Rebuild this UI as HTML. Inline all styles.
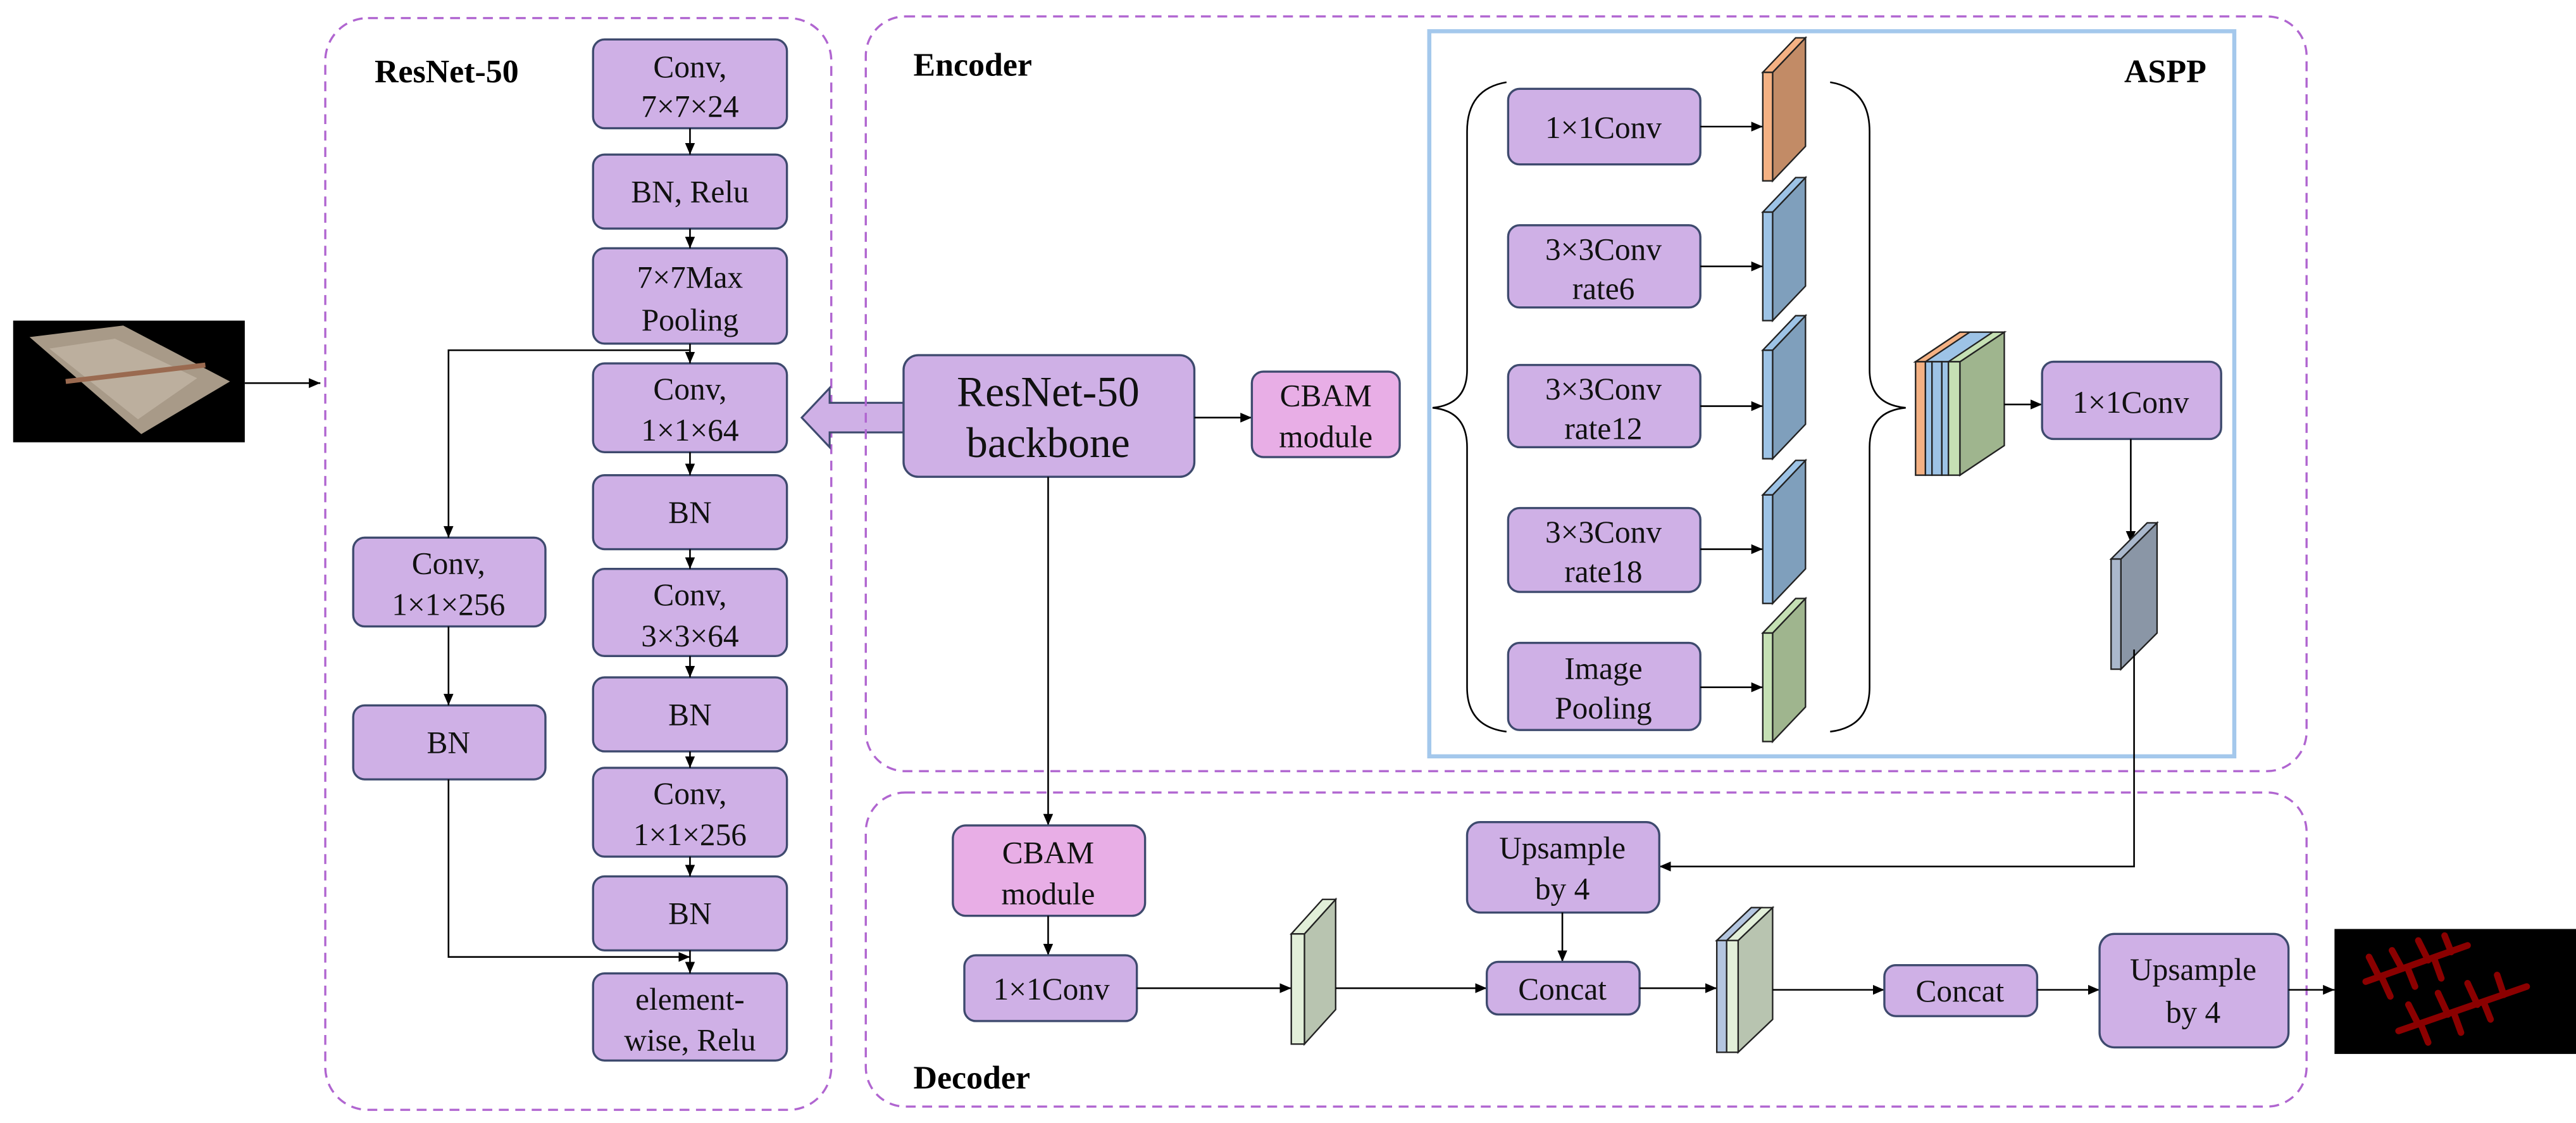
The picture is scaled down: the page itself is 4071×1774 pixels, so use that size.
<!DOCTYPE html>
<html><head><meta charset="utf-8"><style>html,body{margin:0;padding:0;background:#fff}svg{display:block}svg text{font-family:"Liberation Serif","Noto Serif CJK SC","DejaVu Serif",serif}</style></head><body>
<svg width="4071" height="1774" viewBox="0 0 1568 683" preserveAspectRatio="none" xmlns="http://www.w3.org/2000/svg">
<defs>
<marker id="a" markerWidth="8" markerHeight="8" refX="7" refY="4" orient="auto" markerUnits="userSpaceOnUse"><path d="M0,1 L7,4 L0,7 z" fill="#000"/></marker>
</defs>
<style>
.b{fill:#cfb0e6;stroke:#3e4a6e;stroke-width:1.3}
.p{fill:#e8aee6;stroke:#3e4a6e;stroke-width:1.3}
.l{stroke:#000;stroke-width:1;fill:none}
.t{font-size:19px;text-anchor:middle;fill:#111;font-family:"Liberation Serif","Noto Serif CJK SC","DejaVu Serif",serif}
.s{stroke:#222;stroke-width:0.9}
</style>
<rect x="8" y="195" width="141" height="74" fill="#000"/>
<polygon points="18,205 75,198 140,232 86,264" fill="#a89a88"/>
<polygon points="30,212 70,206 120,230 84,255" fill="#c4b8a8" opacity="0.7"/>
<line x1="40" y1="232" x2="125" y2="222" stroke="#9a6a50" stroke-width="3"/>
<line class="l" x1="149" y1="233" x2="195" y2="233" marker-end="url(#a)"/>

<rect x="198" y="11" width="308" height="664" rx="26" fill="none" stroke="#b065d0" stroke-width="1.3" stroke-dasharray="6,4"/>
<text x="228" y="50" font-size="20" font-weight="bold">ResNet-50</text>
<g>
<rect class="b" x="361" y="24" width="118" height="54" rx="7"/><text class="t" x="420" y="47">Conv,</text><text class="t" x="420" y="71">7×7×24</text>
<rect class="b" x="361" y="94" width="118" height="45" rx="7"/><text class="t" x="420" y="123">BN, Relu</text>
<rect class="b" x="361" y="151" width="118" height="58" rx="7"/><text class="t" x="420" y="175">7×7Max</text><text class="t" x="420" y="201">Pooling</text>
<rect class="b" x="361" y="221" width="118" height="54" rx="7"/><text class="t" x="420" y="243">Conv,</text><text class="t" x="420" y="268">1×1×64</text>
<rect class="b" x="361" y="289" width="118" height="45" rx="7"/><text class="t" x="420" y="318">BN</text>
<rect class="b" x="361" y="346" width="118" height="53" rx="7"/><text class="t" x="420" y="368">Conv,</text><text class="t" x="420" y="393">3×3×64</text>
<rect class="b" x="361" y="412" width="118" height="45" rx="7"/><text class="t" x="420" y="441">BN</text>
<rect class="b" x="361" y="467" width="118" height="54" rx="7"/><text class="t" x="420" y="489">Conv,</text><text class="t" x="420" y="514">1×1×256</text>
<rect class="b" x="361" y="533" width="118" height="45" rx="7"/><text class="t" x="420" y="562">BN</text>
<rect class="b" x="361" y="592" width="118" height="53" rx="7"/><text class="t" x="420" y="614">element-</text><text class="t" x="420" y="639">wise, Relu</text>
<rect class="b" x="215" y="327" width="117" height="54" rx="7"/><text class="t" x="273" y="349">Conv,</text><text class="t" x="273" y="374">1×1×256</text>
<rect class="b" x="215" y="429" width="117" height="45" rx="7"/><text class="t" x="273" y="458">BN</text>
</g>
<g class="l">
<line x1="420" y1="78" x2="420" y2="94" marker-end="url(#a)"/>
<line x1="420" y1="139" x2="420" y2="151" marker-end="url(#a)"/>
<line x1="420" y1="209" x2="420" y2="221" marker-end="url(#a)"/>
<line x1="420" y1="275" x2="420" y2="289" marker-end="url(#a)"/>
<line x1="420" y1="334" x2="420" y2="346" marker-end="url(#a)"/>
<line x1="420" y1="399" x2="420" y2="412" marker-end="url(#a)"/>
<line x1="420" y1="457" x2="420" y2="467" marker-end="url(#a)"/>
<line x1="420" y1="521" x2="420" y2="533" marker-end="url(#a)"/>
<line x1="420" y1="578" x2="420" y2="592" marker-end="url(#a)"/>
<polyline points="420,213 273,213 273,327" marker-end="url(#a)"/>
<line x1="273" y1="381" x2="273" y2="429" marker-end="url(#a)"/>
<polyline points="273,474 273,582 420,582" marker-end="url(#a)"/>
</g>
<polygon points="488,254 505,236 505,245 550,245 550,263 505,263 505,272" fill="#cfb0e6" stroke="#3e4a6e" stroke-width="1.2"/>

<rect x="527" y="10" width="877" height="459" rx="24" fill="none" stroke="#b065d0" stroke-width="1.3" stroke-dasharray="6,4"/>
<text x="556" y="46" font-size="20" font-weight="bold">Encoder</text>
<rect class="b" x="550" y="216" width="177" height="74" rx="9"/>
<text class="t" x="638" y="247" style="font-size:26px">ResNet-50</text>
<text class="t" x="638" y="278" style="font-size:26px">backbone</text>
<line class="l" x1="727" y1="254" x2="762" y2="254" marker-end="url(#a)"/>
<rect class="p" x="762" y="226" width="90" height="52" rx="7"/>
<text class="t" x="807" y="247">CBAM</text><text class="t" x="807" y="272">module</text>

<rect x="870" y="19" width="490" height="441" fill="none" stroke="#a4c8ec" stroke-width="2.5"/>
<text x="1343" y="50" font-size="20" font-weight="bold" text-anchor="end">ASPP</text>
<path class="l" d="M917,50 Q893,54 893,80 L893,225 Q893,246 872,248 Q893,250 893,272 L893,418 Q893,442 917,445" stroke-width="1.1"/>
<path class="l" d="M1114,50 Q1138,54 1138,80 L1138,225 Q1138,246 1160,248 Q1138,250 1138,272 L1138,418 Q1138,442 1114,445" stroke-width="1.1"/>
<rect class="b" x="918" y="54" width="117" height="46" rx="7"/><text class="t" x="976" y="84">1×1Conv</text>
<rect class="b" x="918" y="137" width="117" height="50" rx="7"/><text class="t" x="976" y="158">3×3Conv</text><text class="t" x="976" y="182">rate6</text>
<rect class="b" x="918" y="222" width="117" height="50" rx="7"/><text class="t" x="976" y="243">3×3Conv</text><text class="t" x="976" y="267">rate12</text>
<rect class="b" x="918" y="309" width="117" height="51" rx="7"/><text class="t" x="976" y="330">3×3Conv</text><text class="t" x="976" y="354">rate18</text>
<rect class="b" x="918" y="391" width="117" height="53" rx="7"/><text class="t" x="976" y="413">Image</text><text class="t" x="976" y="437">Pooling</text>
<g class="l">
<line x1="1035" y1="77" x2="1073" y2="77" marker-end="url(#a)"/>
<line x1="1035" y1="162" x2="1073" y2="162" marker-end="url(#a)"/>
<line x1="1035" y1="247" x2="1073" y2="247" marker-end="url(#a)"/>
<line x1="1035" y1="334" x2="1073" y2="334" marker-end="url(#a)"/>
<line x1="1035" y1="418" x2="1073" y2="418" marker-end="url(#a)"/>
</g>
<g class="s">
<polygon points="1079,44 1099,23 1099,89 1079,110" fill="#c28b66"/><polygon points="1073,44 1093,23 1099,23 1079,44" fill="#f4b183"/><rect x="1073" y="44" width="6" height="66" fill="#f4b183"/>
<polygon points="1079,129 1099,108 1099,174 1079,195" fill="#7f9fbc"/><polygon points="1073,129 1093,108 1099,108 1079,129" fill="#9dc3e6"/><rect x="1073" y="129" width="6" height="66" fill="#9dc3e6"/>
<polygon points="1079,213 1099,192 1099,258 1079,279" fill="#7f9fbc"/><polygon points="1073,213 1093,192 1099,192 1079,213" fill="#9dc3e6"/><rect x="1073" y="213" width="6" height="66" fill="#9dc3e6"/>
<polygon points="1079,301 1099,280 1099,346 1079,367" fill="#7f9fbc"/><polygon points="1073,301 1093,280 1099,280 1079,301" fill="#9dc3e6"/><rect x="1073" y="301" width="6" height="66" fill="#9dc3e6"/>
<polygon points="1079,385 1099,364 1099,430 1079,451" fill="#9fb58e"/><polygon points="1073,385 1093,364 1099,364 1079,385" fill="#c5e0b4"/><rect x="1073" y="385" width="6" height="66" fill="#c5e0b4"/>
</g>
<g class="s">
<polygon points="1193,220 1220,202 1220,271 1193,289" fill="#9fb58e"/>
<polygon points="1166,220 1193,202 1220,202 1193,220" fill="#9dc3e6"/>
<polygon points="1166,220 1193,202 1199,202 1172,220" fill="#f4b183"/>
<polygon points="1186,220 1213,202 1220,202 1193,220" fill="#c5e0b4"/>
<rect x="1166" y="220" width="6" height="69" fill="#f4b183"/>
<rect x="1172" y="220" width="4" height="69" fill="#9dc3e6"/>
<rect x="1176" y="220" width="6" height="69" fill="#9dc3e6"/>
<rect x="1182" y="220" width="4" height="69" fill="#9dc3e6"/>
<rect x="1186" y="220" width="7" height="69" fill="#c5e0b4"/>
</g>
<line class="l" x1="1220" y1="246" x2="1243" y2="246" marker-end="url(#a)"/>
<rect class="b" x="1243" y="220" width="109" height="47" rx="7"/><text class="t" x="1297" y="251">1×1Conv</text>
<line class="l" x1="1297" y1="267" x2="1297" y2="330" marker-end="url(#a)"/>
<g class="s">
<polygon points="1291,340 1313,318 1313,385 1291,407" fill="#8a96a6"/><polygon points="1285,340 1307,318 1313,318 1291,340" fill="#aab8cc"/><rect x="1285" y="340" width="6" height="67" fill="#aab8cc"/>
</g>
<polyline class="l" points="1299,395 1299,527 1010,527" marker-end="url(#a)"/>
<line class="l" x1="638" y1="290" x2="638" y2="502" marker-end="url(#a)"/>

<rect x="527" y="482" width="877" height="191" rx="24" fill="none" stroke="#b065d0" stroke-width="1.3" stroke-dasharray="6,4"/>
<text x="556" y="662" font-size="20" font-weight="bold">Decoder</text>
<rect class="p" x="580" y="502" width="117" height="55" rx="8"/><text class="t" x="638" y="525">CBAM</text><text class="t" x="638" y="550">module</text>
<line class="l" x1="638" y1="557" x2="638" y2="581" marker-end="url(#a)"/>
<rect class="b" x="587" y="581" width="105" height="40" rx="7"/><text class="t" x="640" y="608">1×1Conv</text>
<line class="l" x1="692" y1="601" x2="786" y2="601" marker-end="url(#a)"/>
<g class="s">
<polygon points="794,568 813,547 813,614 794,635" fill="#b8c4b0"/><polygon points="786,568 805,547 813,547 794,568" fill="#e2efd9"/><rect x="786" y="568" width="8" height="67" fill="#e2efd9"/>
</g>
<line class="l" x1="813" y1="601" x2="905" y2="601" marker-end="url(#a)"/>
<rect class="b" x="893" y="500" width="117" height="55" rx="8"/><text class="t" x="951" y="522">Upsample</text><text class="t" x="951" y="547">by 4</text>
<line class="l" x1="951" y1="555" x2="951" y2="585" marker-end="url(#a)"/>
<rect class="b" x="905" y="585" width="93" height="32" rx="7"/><text class="t" x="951" y="608">Concat</text>
<line class="l" x1="998" y1="601" x2="1045" y2="601" marker-end="url(#a)"/>
<g class="s">
<polygon points="1058,572 1079,552 1079,620 1058,640" fill="#b8c4b0"/>
<polygon points="1045,572 1066,552 1079,552 1058,572" fill="#e2efd9"/>
<polygon points="1045,572 1066,552 1072,552 1051,572" fill="#b4c6e0"/>
<rect x="1045" y="572" width="6" height="68" fill="#b4c6e0"/>
<rect x="1051" y="572" width="7" height="68" fill="#e2efd9"/>
</g>
<line class="l" x1="1079" y1="602" x2="1147" y2="602" marker-end="url(#a)"/>
<rect class="b" x="1147" y="587" width="93" height="31" rx="7"/><text class="t" x="1193" y="609">Concat</text>
<line class="l" x1="1240" y1="602" x2="1278" y2="602" marker-end="url(#a)"/>
<rect class="b" x="1278" y="568" width="115" height="69" rx="9"/><text class="t" x="1335" y="596">Upsample</text><text class="t" x="1335" y="622">by 4</text>
<line class="l" x1="1393" y1="602" x2="1421" y2="602" marker-end="url(#a)"/>
<rect x="1421" y="565" width="148" height="76" fill="#000"/>
<g stroke="#8b0000" stroke-width="4" stroke-linecap="round" fill="#8b0000">
<line x1="1440" y1="597" x2="1502" y2="575"/>
<line x1="1460" y1="627" x2="1538" y2="600"/>
<line x1="1448" y1="594" x2="1442" y2="582"/><line x1="1462" y1="589" x2="1456" y2="578"/><line x1="1478" y1="584" x2="1472" y2="572"/><line x1="1492" y1="579" x2="1488" y2="569"/>
<line x1="1450" y1="595" x2="1455" y2="606"/><line x1="1466" y1="590" x2="1470" y2="600"/><line x1="1482" y1="584" x2="1486" y2="595"/>
<line x1="1472" y1="623" x2="1466" y2="611"/><line x1="1490" y1="617" x2="1484" y2="604"/><line x1="1508" y1="611" x2="1502" y2="598"/><line x1="1524" y1="605" x2="1520" y2="593"/>
<line x1="1474" y1="624" x2="1478" y2="634"/><line x1="1494" y1="617" x2="1498" y2="628"/><line x1="1512" y1="610" x2="1516" y2="620"/>
</g>
</svg>
</body></html>
